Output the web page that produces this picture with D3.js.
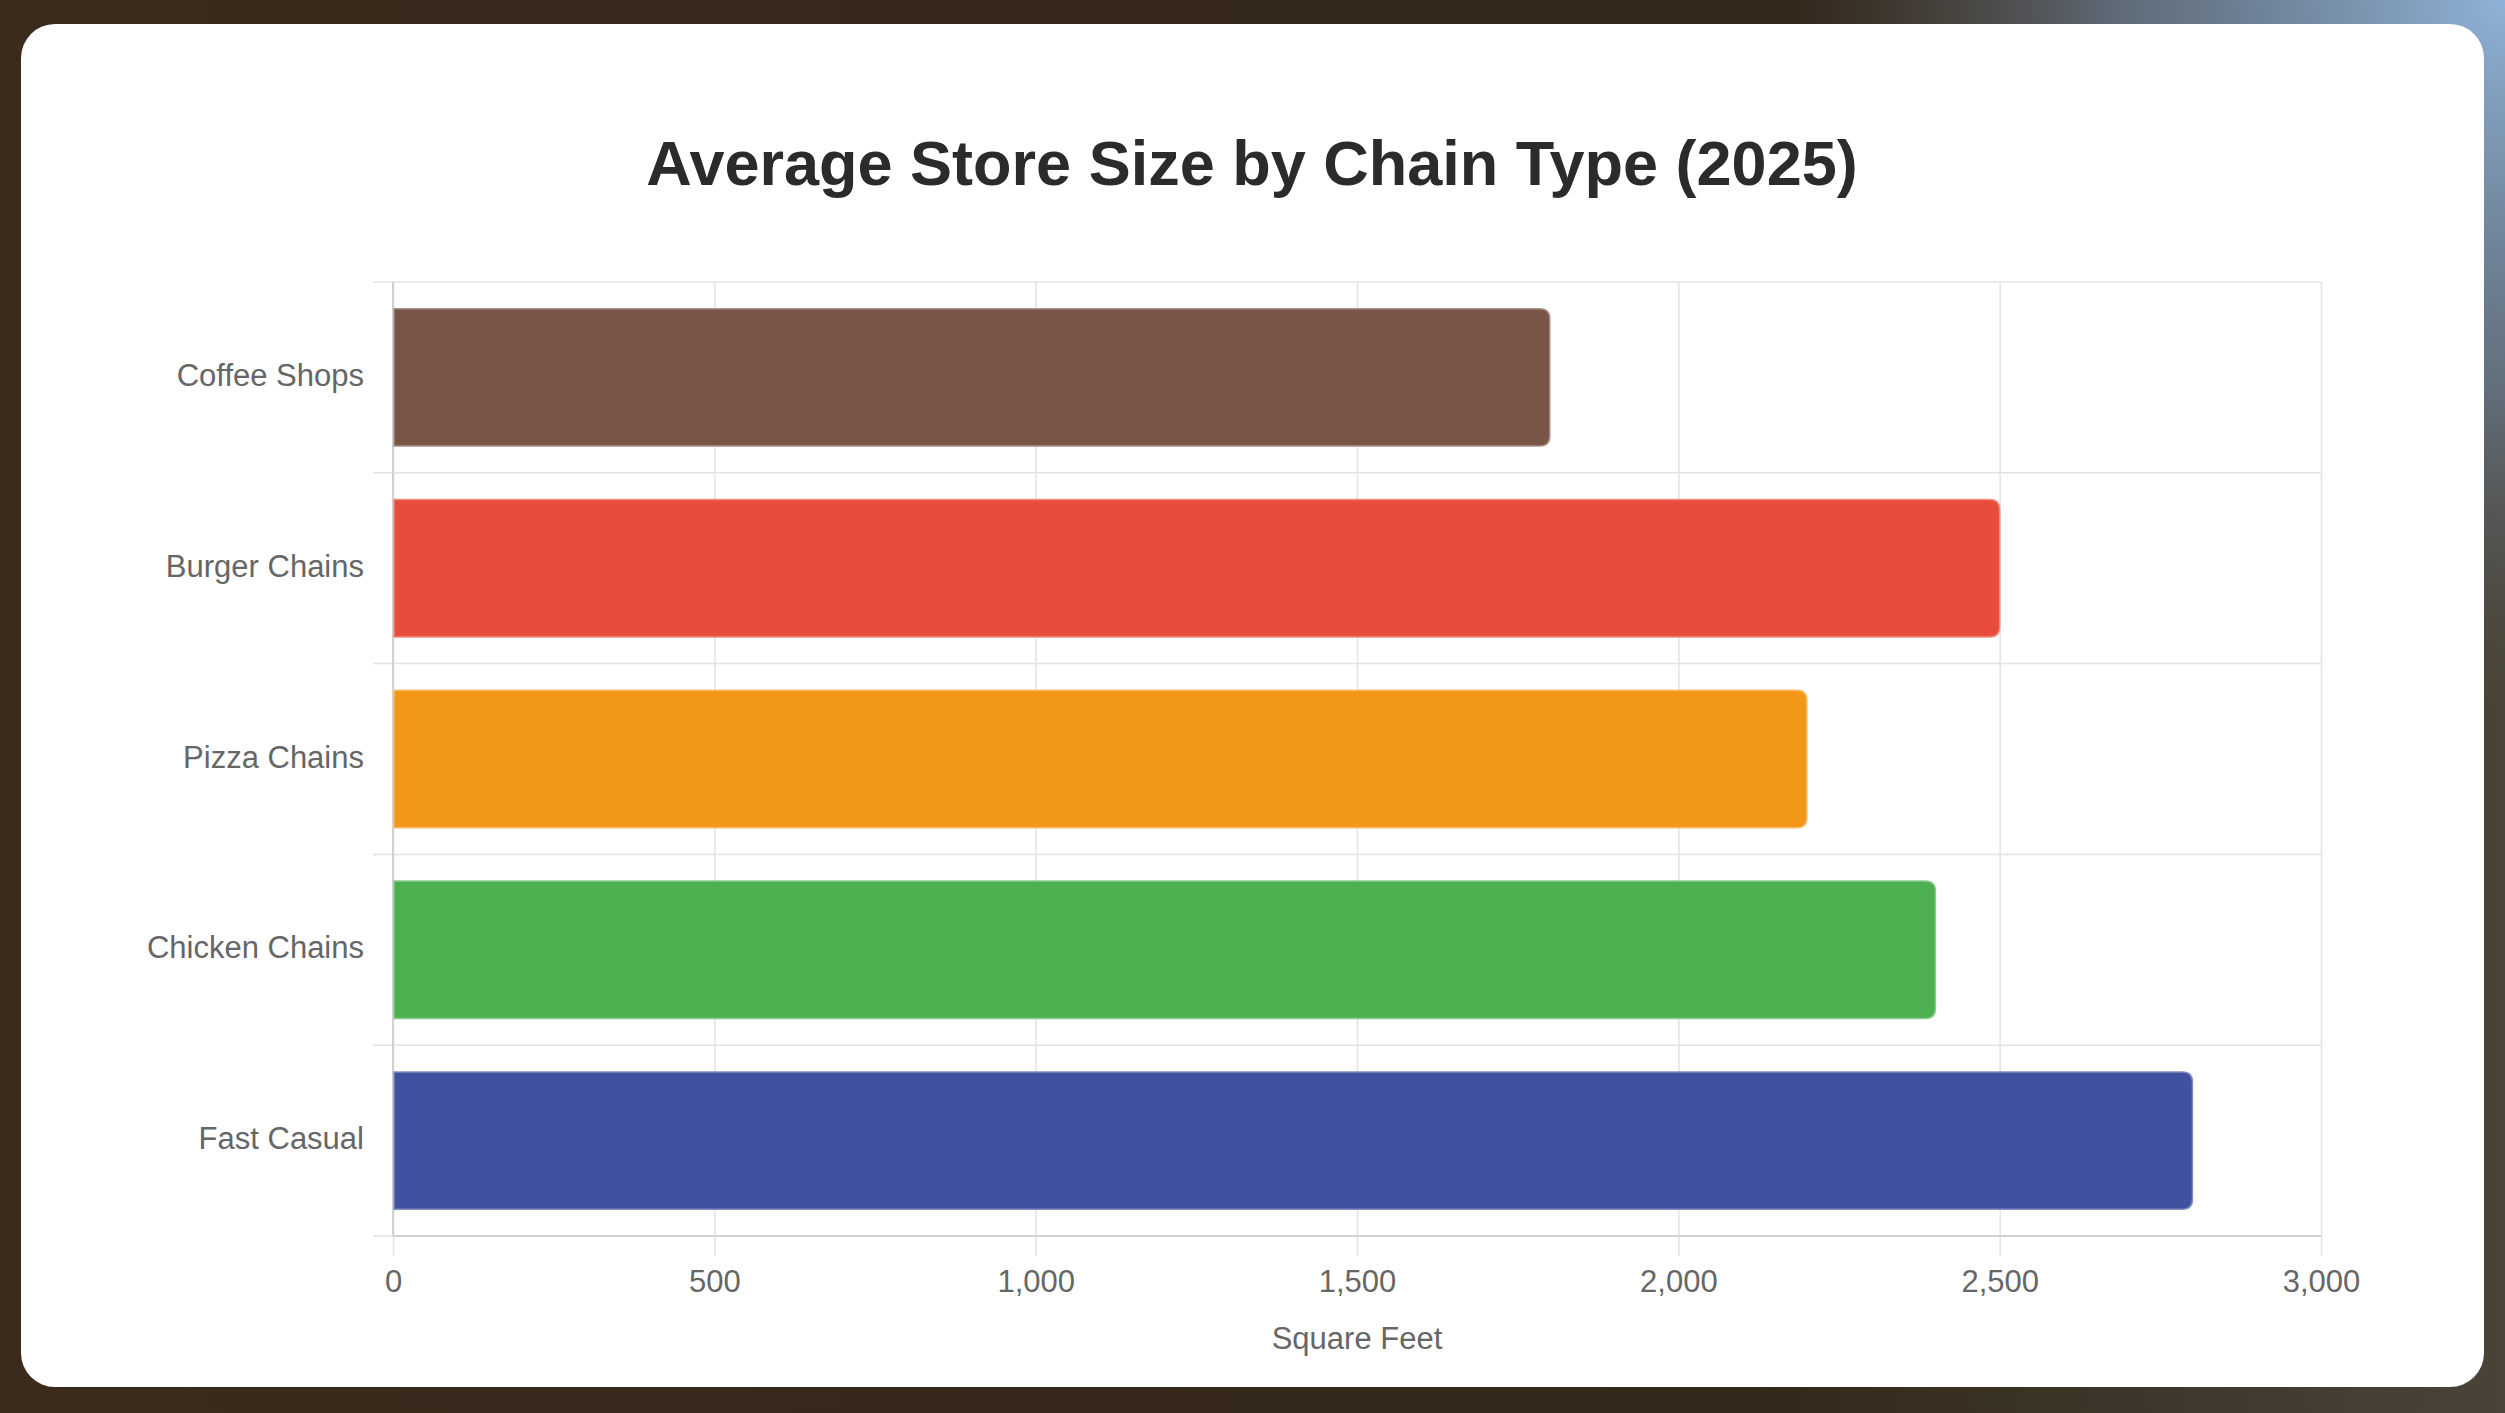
<!DOCTYPE html>
<html>
<head>
<meta charset="utf-8">
<script src="https://cdn.jsdelivr.net/npm/d3@7"></script>
<style>
  html, body { margin: 0; padding: 0; background: #33271a; }
  svg { display: block; }
</style>
</head>
<body>
<div id="chart"></div>
<script>
// chart data
const categories = ["Coffee Shops", "Burger Chains", "Pizza Chains", "Chicken Chains", "Fast Casual"];
const storeSize = [1800, 2500, 2200, 2400, 2800];
const barColors = ["#795548", "#e74c3c", "#f39719", "#4caf50", "#3f51a0"];
const xTicks = [0, 500, 1000, 1500, 2000, 2500, 3000];

const width = 2505;
const height = 1413;

const svg = d3.select("#chart").append("svg")
    .attr("width", width)
    .attr("height", height);

// blurred photo-ish backdrop
const defs = svg.append("defs");
const bg = defs.append("linearGradient").attr("id", "bg")
    .attr("x1", 0).attr("y1", 0).attr("x2", 1).attr("y2", 0);
bg.append("stop").attr("offset", "0%").attr("stop-color", "#3a2b1c");
bg.append("stop").attr("offset", "70%").attr("stop-color", "#33281c");
bg.append("stop").attr("offset", "100%").attr("stop-color", "#4a4438");

const glow = defs.append("radialGradient").attr("id", "glow")
    .attr("gradientUnits", "userSpaceOnUse")
    .attr("cx", width).attr("cy", 0).attr("r", 700);
glow.append("stop").attr("offset", "0%").attr("stop-color", "#8fb2d8").attr("stop-opacity", 1);
glow.append("stop").attr("offset", "55%").attr("stop-color", "#6d829a").attr("stop-opacity", 0.7);
glow.append("stop").attr("offset", "100%").attr("stop-color", "#5a5a5a").attr("stop-opacity", 0);

svg.append("rect").attr("width", width).attr("height", height).attr("fill", "url(#bg)");
svg.append("rect").attr("width", width).attr("height", height).attr("fill", "url(#glow)");

// white card
svg.append("rect")
    .attr("x", 21).attr("y", 24)
    .attr("width", 2463).attr("height", 1363)
    .attr("rx", 34)
    .attr("fill", "#ffffff");

svg.append("text")
    .attr("x", 1252).attr("y", 185)
    .attr("text-anchor", "middle")
    .attr("font-family", "Liberation Sans, Arial, sans-serif")
    .attr("font-weight", "bold")
    .attr("font-size", 63)
    .attr("fill", "#2b2b2b")
    .text("Average Store Size by Chain Type (2025)");

const margin = { left: 393, right: 2321, top: 282, bottom: 1236 };

const x = d3.scaleLinear()
    .domain([0, 3000])
    .range([margin.left, margin.right]);

const y = d3.scaleBand()
    .domain(categories)
    .range([margin.top, margin.bottom])
    .padding(0);

const gridColor = "#e3e3e3";
const labelColor = "#666666";
const font = "Liberation Sans, Arial, sans-serif";

// vertical grid + x ticks
const xAxis = d3.axisBottom(x)
    .tickValues(xTicks)
    .tickFormat(d3.format(","))
    .tickSize(-(margin.bottom - margin.top))
    .tickPadding(0);

const gx = svg.append("g")
    .attr("transform", `translate(0,${margin.bottom})`)
    .call(xAxis);
gx.select(".domain").remove();
gx.selectAll(".tick line")
    .attr("stroke", gridColor)
    .attr("stroke-width", 1.5)
    .attr("y2", -(margin.bottom - margin.top))
    .attr("y1", 20);
gx.selectAll(".tick text")
    .attr("y", 56)
    .attr("dy", 0)
    .attr("font-family", font)
    .attr("font-size", 31)
    .attr("fill", labelColor);

// horizontal category boundaries + y labels
const yAxis = d3.axisLeft(y)
    .tickSize(0)
    .tickPadding(29);

const gy = svg.append("g")
    .attr("transform", `translate(${margin.left},0)`)
    .call(yAxis);
gy.select(".domain").remove();
gy.selectAll(".tick line").remove();
gy.selectAll(".tick text")
    .attr("dy", "0.28em")
    .attr("font-family", font)
    .attr("font-size", 31)
    .attr("fill", labelColor);

const bounds = categories.map(c => y(c)).concat([margin.bottom]);
svg.append("g").selectAll("line")
    .data(bounds)
    .join("line")
    .attr("x1", margin.left - 20)
    .attr("x2", margin.right)
    .attr("y1", d => d)
    .attr("y2", d => d)
    .attr("stroke", gridColor)
    .attr("stroke-width", 1.5);

// axis borders
svg.append("line")
    .attr("x1", margin.left).attr("x2", margin.right)
    .attr("y1", margin.bottom).attr("y2", margin.bottom)
    .attr("stroke", "#d2d2d2").attr("stroke-width", 2);
svg.append("line")
    .attr("x1", margin.left).attr("x2", margin.left)
    .attr("y1", margin.top).attr("y2", margin.bottom)
    .attr("stroke", "#d2d2d2").attr("stroke-width", 2);

// bars, rounded on the value end only
const barH = y.bandwidth() * 0.72;
const r = 10;

function barPath(x0, x1, yc) {
  const t = yc - barH / 2, b = yc + barH / 2;
  return `M${x0},${t}H${x1 - r}Q${x1},${t} ${x1},${t + r}V${b - r}Q${x1},${b} ${x1 - r},${b}H${x0}Z`;
}

svg.append("g").selectAll("path")
    .data(categories)
    .join("path")
    .attr("d", (c, i) => barPath(x(0) + 1, x(storeSize[i]), y(c) + y.bandwidth() / 2))
    .attr("fill", (c, i) => barColors[i])
    .attr("stroke", (c, i) => d3.interpolateRgb(barColors[i], "#ffffff")(0.35))
    .attr("stroke-width", 1.5);

// axis title
svg.append("text")
    .attr("x", (margin.left + margin.right) / 2)
    .attr("y", 1349)
    .attr("text-anchor", "middle")
    .attr("font-family", font)
    .attr("font-size", 31)
    .attr("fill", labelColor)
    .text("Square Feet");
</script>
</body>
</html>
